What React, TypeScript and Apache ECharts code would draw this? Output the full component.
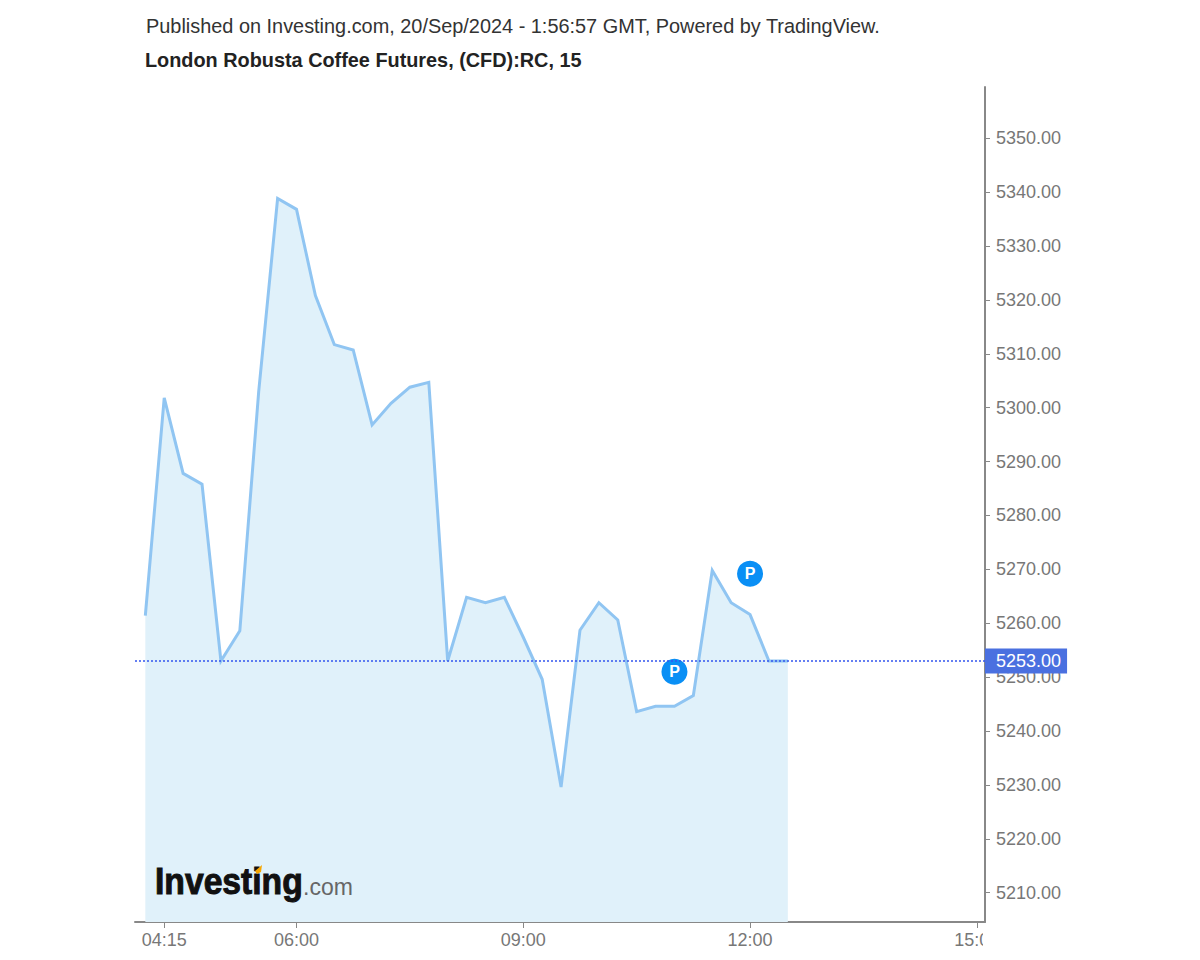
import React, { useEffect, useRef } from "react";
import * as echarts from "echarts";

const times = ["04:00","04:15","04:30","04:45","05:00","05:15","05:30","05:45","06:00","06:15","06:30","06:45","07:00","07:15","07:30","07:45","08:00","08:15","08:30","08:45","09:00","09:15","09:30","09:45","10:00","10:15","10:30","10:45","11:00","11:15","11:30","11:45","12:00","12:15","12:30"];
const prices = [5261.4,5301.8,5287.8,5285.8,5253,5258.6,5303,5338.8,5336.8,5320.8,5311.7,5310.7,5296.8,5300.8,5303.8,5304.7,5253,5264.8,5263.8,5264.8,5257.4,5249.6,5229.6,5258.7,5263.8,5260.6,5243.6,5244.6,5244.6,5246.6,5269.8,5263.8,5261.6,5253,5253];
const xTicks = ["04:15","06:00","09:00","12:00","15:00"];
const yTicks = [5210,5220,5230,5240,5250,5260,5270,5280,5290,5300,5310,5320,5330,5340,5350];
const lastPrice = 5253;
const publishedMarks: [string, number][] = [["11:00", 5251], ["12:00", 5269.2]];
const heading = "Published on Investing.com, 20/Sep/2024 - 1:56:57 GMT, Powered by TradingView.";
const subheading = "London Robusta Coffee Futures, (CFD):RC, 15";

const toMin = (t: string) => { const [h, m] = t.split(":").map(Number); return h * 60 + m; };
const toLabel = (v: number) => `${String(Math.floor(v / 60)).padStart(2, "0")}:${String(v % 60).padStart(2, "0")}`;
const FONT = "'Liberation Sans', Arial, sans-serif";

export default function App() {
  const ref = useRef<HTMLDivElement>(null);
  useEffect(() => {
    const chart = echarts.init(ref.current!, undefined, { renderer: "svg" });
    chart.setOption({
      animation: false,
      backgroundColor: "#ffffff",
      textStyle: { fontFamily: FONT },
      title: [
        { text: heading, left: 146, top: 16, padding: 0, textStyle: { fontFamily: FONT, fontSize: 19.9, fontWeight: "normal", color: "#333333" } },
        { text: subheading, left: 145, top: 50, padding: 0, textStyle: { fontFamily: FONT, fontSize: 19.85, fontWeight: "bold", color: "#222222" } },
      ],
      grid: { left: 135, top: 87, width: 850, height: 835 },
      xAxis: {
        type: "value",
        min: 231.8,
        max: 906.5,
        splitLine: { show: false },
        axisLine: { onZero: false, lineStyle: { color: "#888888", width: 2 } },
        axisTick: { customValues: xTicks.map(toMin), length: 6, lineStyle: { color: "#888888", width: 1 } } as any,
        axisLabel: {
          customValues: xTicks.map(toMin),
          formatter: (v: number) => toLabel(v),
          color: "#777777",
          fontSize: 18,
          fontFamily: FONT,
          margin: 9,
          hideOverlap: false,
          showMinLabel: true,
          showMaxLabel: true,
        } as any,
      },
      yAxis: {
        type: "value",
        position: "right",
        min: 5204.56,
        max: 5359.5,
        splitLine: { show: false },
        axisLine: { show: true, onZero: false, lineStyle: { color: "#888888", width: 2 } },
        axisTick: { show: true, customValues: yTicks, length: 5, lineStyle: { color: "#888888", width: 1 } } as any,
        axisLabel: {
          customValues: yTicks,
          formatter: (v: number) => v.toFixed(2),
          color: "#777777",
          fontSize: 18,
          fontFamily: FONT,
          margin: 11,
          padding: [3, 0, 0, 0],
        } as any,
      },
      series: [
        {
          type: "line",
          name: "RC",
          data: times.map((t, i) => [toMin(t), prices[i]]),
          showSymbol: false,
          symbol: "none",
          lineStyle: { color: "#90c5f2", width: 3, join: "miter" },
          areaStyle: { color: "#e0f1fa", opacity: 1 },
          z: 2,
          markLine: {
            silent: true,
            symbol: "none",
            precision: 2,
            lineStyle: { color: "#3355ee", type: [2, 2], width: 1.5, opacity: 1 },
            label: {
              position: "end",
              distance: 0,
              formatter: () => lastPrice.toFixed(2),
              backgroundColor: "#4a70e0",
              color: "#ffffff",
              fontSize: 18,
              fontFamily: FONT,
              padding: [4, 6, 3, 11],
            },
            data: [{ yAxis: lastPrice, lineStyle: { color: "#3355ee", type: [2, 2], width: 1.5, opacity: 1 } }],
          },
        },
        {
          type: "scatter",
          name: "P",
          data: publishedMarks.map(([t, v]) => [toMin(t), v]),
          symbol: "circle",
          symbolSize: 26,
          itemStyle: { color: "#0a8ff5", opacity: 1 },
          label: { show: true, position: "inside", formatter: "P", color: "#ffffff", fontSize: 16, fontWeight: "bold", fontFamily: FONT },
          z: 4,
        },
      ],
      graphic: [
        { type: "rect", z: 100, shape: { x: 983, y: 926, width: 30, height: 34 }, style: { fill: "#ffffff" } },
        { type: "text", z: 100, x: 155, y: 862, scaleX: 0.91, style: { text: "Investing", fill: "#111111", stroke: "#111111", lineWidth: 1, font: `bold 37px ${FONT}` } },
        { type: "text", z: 100, x: 303, y: 875, style: { text: ".com", fill: "#666666", font: `23px ${FONT}` } },
        { type: "polygon", z: 101, shape: { points: [[255, 871], [262, 865], [261, 872], [257, 874]] }, style: { fill: "#f7a600" } },
      ],
    });
    return () => chart.dispose();
  }, []);
  return <div ref={ref} style={{ position: "absolute", left: 0, top: 0, width: 1200, height: 960 }} />;
}
